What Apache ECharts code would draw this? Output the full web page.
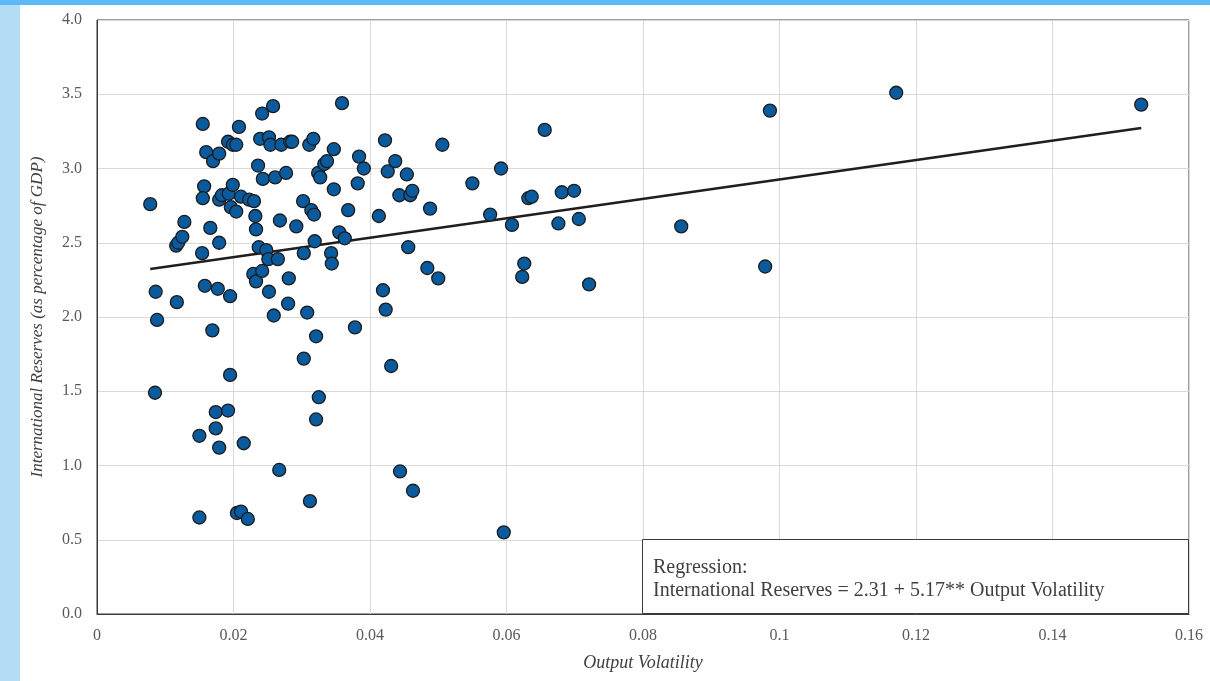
<!DOCTYPE html>
<html>
<head>
<meta charset="utf-8">
<script src="https://cdn.jsdelivr.net/npm/echarts@6/dist/echarts.min.js"></script>
<style>
  html, body { margin: 0; padding: 0; background: #fff; }
  .top-bar { position: absolute; left: 0; top: 0; width: 1210px; height: 5px; background: #5cb8f6; }
  .side-bar { position: absolute; left: 0; top: 5px; width: 20px; height: 676px; background: #b4dcf5; }
  #main { position: absolute; left: 0; top: 0; width: 1210px; height: 681px; }
</style>
</head>
<body>
<div class="top-bar"></div>
<div class="side-bar"></div>
<div id="main"></div>
<script>
// output volatility (x) and reserves (y) for each country
const volatility = [
  0.0078, 0.0086, 0.0088, 0.0085, 0.0116, 0.0119, 0.0125, 0.0128, 0.0117, 0.0150,
  0.0150, 0.0154, 0.0155, 0.0157, 0.0155, 0.0160, 0.0158, 0.0170, 0.0166, 0.0169,
  0.0174, 0.0174, 0.0179, 0.0177, 0.0179, 0.0179, 0.0179, 0.0183, 0.0192, 0.0193,
  0.0195, 0.0192, 0.0195, 0.0199, 0.0204, 0.0196, 0.0199, 0.0204, 0.0208, 0.0211,
  0.0205, 0.0211, 0.0215, 0.0221, 0.0223, 0.0229, 0.0230, 0.0233, 0.0232, 0.0233,
  0.0237, 0.0242, 0.0236, 0.0239, 0.0242, 0.0243, 0.0248, 0.0251, 0.0252, 0.0254,
  0.0252, 0.0258, 0.0259, 0.0261, 0.0265, 0.0267, 0.0268, 0.0270, 0.0277, 0.0280,
  0.0281, 0.0283, 0.0286, 0.0292, 0.0302, 0.0303, 0.0303, 0.0308, 0.0311, 0.0312,
  0.0314, 0.0317, 0.0318, 0.0319, 0.0321, 0.0321, 0.0324, 0.0325, 0.0327, 0.0333,
  0.0337, 0.0343, 0.0344, 0.0347, 0.0347, 0.0355, 0.0359, 0.0363, 0.0368, 0.0378,
  0.0382, 0.0384, 0.0391, 0.0413, 0.0419, 0.0422, 0.0423, 0.0426, 0.0431, 0.0437,
  0.0443, 0.0444, 0.0454, 0.0456, 0.0459, 0.0462, 0.0463, 0.0484, 0.0488, 0.0500,
  0.0506, 0.0550, 0.0576, 0.0592, 0.0596, 0.0608, 0.0623, 0.0626, 0.0632, 0.0637,
  0.0656, 0.0676, 0.0681, 0.0699, 0.0706, 0.0721, 0.0856, 0.0979, 0.0986, 0.1171,
  0.1530
];
const reserves = [
  2.76, 2.17, 1.98, 1.49, 2.48, 2.50, 2.54, 2.64, 2.10, 1.20,
  0.65, 2.43, 3.30, 2.88, 2.80, 3.11, 2.21, 3.05, 2.60, 1.91,
  1.36, 1.25, 1.12, 2.19, 2.50, 3.10, 2.79, 2.82, 3.18, 2.83,
  1.61, 1.37, 2.14, 3.16, 3.16, 2.74, 2.89, 2.71, 3.28, 2.81,
  0.68, 0.69, 1.15, 0.64, 2.79, 2.29, 2.78, 2.24, 2.68, 2.59,
  2.47, 2.31, 3.02, 3.20, 3.37, 2.93, 2.45, 2.39, 3.21, 3.16,
  2.17, 3.42, 2.01, 2.94, 2.39, 0.97, 2.65, 3.16, 2.97, 2.09,
  2.26, 3.18, 3.18, 2.61, 2.78, 2.43, 1.72, 2.03, 3.16, 0.76,
  2.72, 3.20, 2.69, 2.51, 1.87, 1.31, 2.97, 1.46, 2.94, 3.03,
  3.05, 2.43, 2.36, 2.86, 3.13, 2.57, 3.44, 2.53, 2.72, 1.93,
  2.90, 3.08, 3.00, 2.68, 2.18, 3.19, 2.05, 2.98, 1.67, 3.05,
  2.82, 0.96, 2.96, 2.47, 2.82, 2.85, 0.83, 2.33, 2.73, 2.26,
  3.16, 2.90, 2.69, 3.00, 0.55, 2.62, 2.27, 2.36, 2.80, 2.81,
  3.26, 2.63, 2.84, 2.85, 2.66, 2.22, 2.61, 2.34, 3.39, 3.51,
  3.43
];
// fitted line end points as drawn
const fitX = [0.0078, 0.1530];
const fitY = [2.323, 3.273];

const xTicks = ['0', '0.02', '0.04', '0.06', '0.08', '0.1', '0.12', '0.14', '0.16'];

const points = volatility.map((v, i) => [v, reserves[i]]);
const fitLine = fitX.map((v, i) => [v, fitY[i]]);

const serif = "'Liberation Serif', 'DejaVu Serif', serif";
const chart = echarts.init(document.getElementById('main'), null, { renderer: 'canvas' });

chart.setOption({
  backgroundColor: 'transparent',
  animation: false,
  grid: {
    left: 97,
    right: 21,
    top: 20,
    bottom: 67,
    show: true,
    borderColor: '#3a3a3a',
    borderWidth: 1,
    backgroundColor: '#fff'
  },
  xAxis: {
    type: 'value',
    min: 0,
    max: 0.16,
    interval: 0.02,
    name: 'Output Volatility',
    nameLocation: 'middle',
    nameGap: 40,
    nameTextStyle: { fontFamily: serif, fontStyle: 'italic', fontSize: 18, color: '#404040' },
    axisLine: { show: true, lineStyle: { color: '#3a3a3a' } },
    axisTick: { show: false },
    axisLabel: {
      margin: 14,
      fontFamily: serif,
      fontSize: 16,
      color: '#595959',
      formatter: (v) => xTicks[Math.round(v / 0.02)]
    },
    splitLine: { show: true, lineStyle: { color: '#d9d9d9', width: 1 } }
  },
  yAxis: {
    type: 'value',
    min: 0,
    max: 4,
    interval: 0.5,
    name: 'International Reserves (as percentage of GDP)',
    nameLocation: 'middle',
    nameGap: 51,
    nameTextStyle: { fontFamily: serif, fontStyle: 'italic', fontSize: 17, color: '#404040' },
    axisLine: { show: true, lineStyle: { color: '#3a3a3a' } },
    axisTick: { show: false },
    axisLabel: {
      margin: 15,
      fontFamily: serif,
      fontSize: 16,
      color: '#595959',
      formatter: (v) => v.toFixed(1)
    },
    splitLine: { show: true, lineStyle: { color: '#d9d9d9', width: 1 } }
  },
  series: [
    {
      name: 'Regression',
      type: 'line',
      data: fitLine,
      symbol: 'none',
      lineStyle: { color: '#1e1e1e', width: 2.5 },
      z: 2
    },
    {
      name: 'Countries',
      type: 'scatter',
      data: points,
      symbolSize: 13,
      itemStyle: { color: '#0a5a9e', borderColor: '#1c1c1c', borderWidth: 1.3, opacity: 1 },
      z: 3
    }
  ],
  graphic: [
    {
      type: 'rect',
      right: 21,
      bottom: 67,
      z: 100,
      shape: { width: 546, height: 74 },
      style: { fill: '#ffffff', stroke: '#3a3a3a', lineWidth: 1 }
    },
    {
      type: 'text',
      left: 653,
      top: 556,
      z: 101,
      style: {
        text: 'Regression:\nInternational Reserves = 2.31 + 5.17** Output Volatility',
        font: "20px 'Liberation Serif', serif",
        fill: '#404040',
        lineHeight: 23
      }
    }
  ]
});
</script>
</body>
</html>
